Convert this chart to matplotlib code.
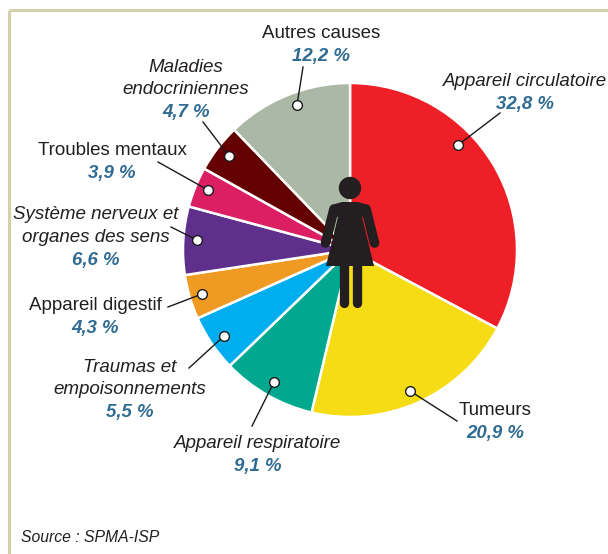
#!/usr/bin/env python3
"""Deces par cause, camembert avec silhouette au centre"""
import matplotlib
matplotlib.use('Agg')
import matplotlib.pyplot as plt
from matplotlib.patches import Circle, Polygon

W, H = 608, 554

# sens horaire depuis le haut
causes = [['Appareil circulatoire'], ['Tumeurs'], ['Appareil respiratoire'],
          ['Traumas et', 'empoisonnements'], ['Appareil digestif'],
          ['Système nerveux et', 'organes des sens'], ['Troubles mentaux'],
          ['Maladies', 'endocriniennes'], ['Autres causes']]
values = [32.8, 20.9, 9.1, 5.5, 4.3, 6.6, 3.9, 4.7, 12.2]
value_labels = ['32,8 %', '20,9 %', '9,1 %', '5,5 %', '4,3 %', '6,6 %', '3,9 %', '4,7 %', '12,2 %']
colors = ['#ee1f26', '#f5dc14', '#00a88f', '#00aeef', '#ef9a22',
          '#5f2f8c', '#dc1f62', '#650000', '#aab8a5']
is_italic = [True, False, True, True, False, True, False, True, False]

# x du texte, y de la valeur, bout du trait et point dans la part (px)
label_x = [525, 495, 258, 130, 95, 96, 112, 186, 321]
value_y = [104.5, 433.5, 466.5, 413, 328, 260, 173.5, 112.5, 57]
line_start = [(500, 113), (457, 421), (252, 426), (189, 368), (168, 307),
              (171, 227), (158, 162), (203, 122), (303, 67)]
line_end = [(458, 145), (410, 391), (274, 382), (224, 336), (202, 294),
            (197, 240), (208, 190), (229, 156), (297, 105)]


def py(y):
    return H - y


plt.rcParams['font.family'] = ['Liberation Sans', 'DejaVu Sans']
fig = plt.figure(figsize=(W / 100, H / 100), dpi=100)
ax = fig.add_axes([0, 0, 1, 1])

ax.pie(values, colors=colors, startangle=90, counterclock=False, center=(350, py(250)),
       radius=167, frame=True, wedgeprops={'edgecolor': 'white', 'linewidth': 1.8})
ax.set_xlim(0, W)
ax.set_ylim(0, H)
ax.axis('off')

# cadre
frame = '#d3d0aa'
ax.plot([8.5, W], [py(10), py(10)], color=frame, lw=2.2, solid_capstyle='butt')
ax.plot([8.5, 8.5], [py(10), 0], color=frame, lw=2.2, solid_capstyle='butt')

# traits et points
for s, e in zip(line_start, line_end):
    ax.plot([s[0], e[0]], [py(s[1]), py(e[1])], color='#1a1a1a', lw=1, zorder=4)
    ax.plot(e[0], py(e[1]), 'o', ms=7, mfc='white', mec='#1a1a1a', mew=1, zorder=5)

# silhouette
dark = '#231f20'
ax.add_patch(Circle((350, py(188)), 10.5, color=dark, zorder=6))
body = [(342, 202), (358, 202), (365, 204), (371, 212), (362, 217), (374, 266),
        (326, 266), (338, 217), (329, 212), (335, 204)]
ax.add_patch(Polygon([(x, py(y)) for x, y in body], closed=True, color=dark, zorder=6, lw=0))
for xs, ys in [((334, 325.5), (209, 243)), ((366, 374.5), (209, 243))]:
    ax.plot(xs, [py(y) for y in ys], color=dark, lw=7, solid_capstyle='round', zorder=6)
for x in (343.7, 356.7):
    ax.plot([x, x], [py(266), py(302.5)], color=dark, lw=6.7, solid_capstyle='round', zorder=6)

# textes
for lines, val, x, y, it in zip(causes, value_labels, label_x, value_y, is_italic):
    for i, line in enumerate(reversed(lines)):
        ax.text(x, py(y - 23 - i * 22.5), line, ha='center', va='center', fontsize=13.5,
                color='#231f20', style='italic' if it else 'normal', zorder=7)
    ax.text(x, py(y), val, ha='center', va='center', fontsize=13.4, color='#2f6b92',
            style='italic', fontweight='bold', zorder=7)

ax.text(21, py(537), 'Source : SPMA-ISP', ha='left', va='center', fontsize=11.3,
        style='italic', color='#231f20')

fig.savefig('out.png', dpi=100)
